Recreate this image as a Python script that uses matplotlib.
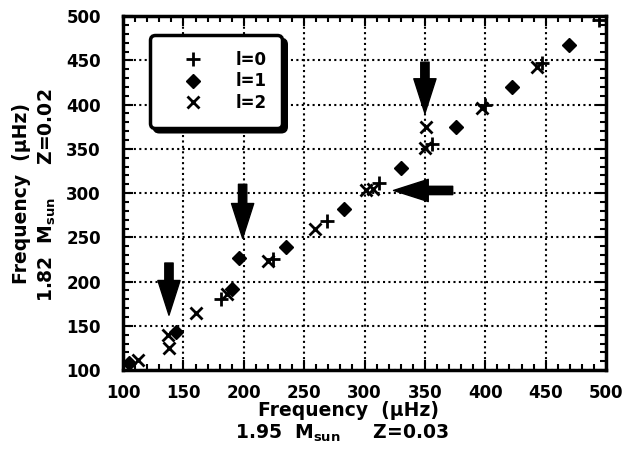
import matplotlib
matplotlib.use('Agg')
import matplotlib.pyplot as plt
from matplotlib.ticker import MultipleLocator

# mode frequencies (x: 1.95 Msun model, y: 1.82 Msun model)
l0_x = [181, 224, 269, 312, 356, 400, 447, 494]
l0_y = [180, 226, 268, 311, 356, 400, 447, 496]

l1_x = [105, 144, 190, 196, 235, 283, 330, 376, 422, 469]
l1_y = [108, 143, 192, 227, 239, 282, 328, 375, 420, 467]

l2_x = [112, 137, 138, 160, 186, 220, 259, 301, 307, 350, 351, 397, 443]
l2_y = [111, 140, 125, 165, 186, 223, 260, 303, 305, 351, 375, 396, 442]

# arrows (tail, head) in data units
arrow_tail = [(138, 221), (199, 310), (373, 303), (350, 448)]
arrow_head = [(138, 162), (199, 249), (324, 303), (350, 390)]

plt.rcParams['font.family'] = 'DejaVu Sans'
plt.rcParams['font.weight'] = 'bold'

fig = plt.figure(figsize=(6.28, 4.62), dpi=100)
ax = fig.add_axes([0.196, 0.199, 0.769, 0.766])

ax.plot(l0_x, l0_y, linestyle='none', marker='+', color='black',
        markersize=10, markeredgewidth=2, label='l=0', zorder=3)
ax.plot(l1_x, l1_y, linestyle='none', marker='D', color='black',
        markersize=7, label='l=1', zorder=3)
ax.plot(l2_x, l2_y, linestyle='none', marker='x', color='black',
        markersize=8, markeredgewidth=2, label='l=2', zorder=3)

for tail, head in zip(arrow_tail, arrow_head):
    ax.annotate('', xy=head, xytext=tail,
                arrowprops=dict(arrowstyle='simple,head_width=1.6,head_length=2.5,tail_width=0.6',
                                mutation_scale=10, color='black',
                                shrinkA=0, shrinkB=0), zorder=4)

ax.set_xlim(100, 500)
ax.set_ylim(100, 500)
ax.xaxis.set_major_locator(MultipleLocator(50))
ax.yaxis.set_major_locator(MultipleLocator(50))
ax.xaxis.set_minor_locator(MultipleLocator(10))
ax.yaxis.set_minor_locator(MultipleLocator(10))
ax.tick_params(which='both', direction='in', top=True, right=True, width=1.5)
ax.tick_params(which='major', length=7)
ax.tick_params(which='minor', length=4)
ax.tick_params(axis='x', which='major', pad=10, labelsize=12)
ax.tick_params(axis='y', which='major', pad=16, labelsize=12)
for lab in ax.get_xticklabels() + ax.get_yticklabels():
    lab.set_fontweight('bold')

ax.grid(True, which='major', color='black', linestyle=(0, (1, 1.6)), linewidth=1.5)
ax.set_axisbelow(True)
for sp in ax.spines.values():
    sp.set_linewidth(2.5)

# legend box with a solid black drop shadow
leg = ax.legend(loc='upper left', bbox_to_anchor=(0.056, 0.946), borderaxespad=0,
                frameon=True, fancybox=True,
                shadow={'color': 'black', 'alpha': 1, 'ox': 3, 'oy': -3},
                framealpha=1, edgecolor='black', prop={'size': 12, 'weight': 'bold'},
                handlelength=3.3, handletextpad=0.85, labelspacing=0.2, borderpad=0.95)
leg.get_frame().set_linewidth(2.5)
leg.get_frame().set_boxstyle('round,pad=0,rounding_size=0.3')
leg.set_zorder(5)

# axis labels, two lines each
fig.text(348 / 628, 1 - 410 / 462, 'Frequency  (\u03bcHz)', ha='center', va='center',
         fontsize=13.5, fontweight='bold')
fig.text(342 / 628, 1 - 433 / 462, r'1.95  M$_{\mathbf{sun}}$     Z=0.03', ha='center',
         va='center', fontsize=13.5, fontweight='bold')
fig.text(22 / 628, 1 - 193 / 462, 'Frequency  (\u03bcHz)', ha='center', va='center',
         rotation=90, fontsize=13.5, fontweight='bold')
fig.text(47 / 628, 1 - 195 / 462, r'1.82  M$_{\mathbf{sun}}$     Z=0.02', ha='center',
         va='center', rotation=90, fontsize=13.5, fontweight='bold')

fig.savefig('out.png', dpi=100)
